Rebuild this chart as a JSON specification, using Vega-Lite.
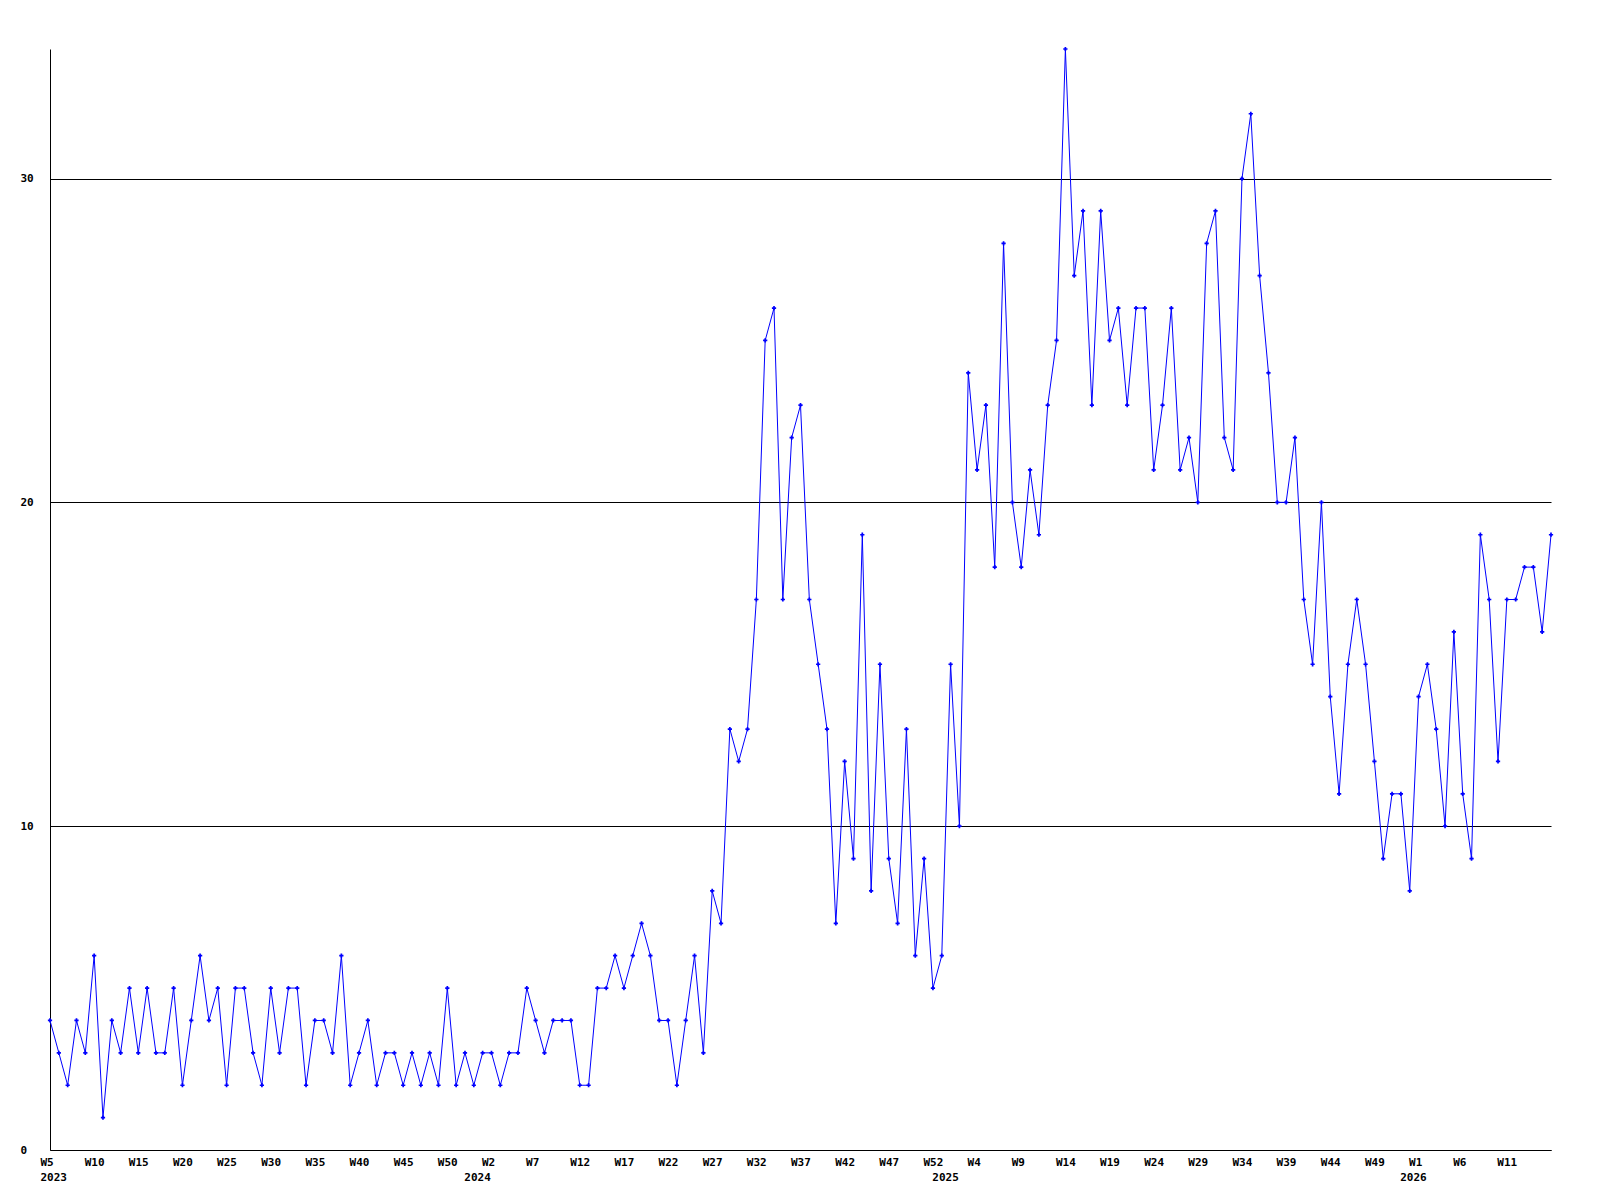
{
  "$schema": "https://vega.github.io/schema/vega-lite/v6.json",
  "autosize": "none",
  "width": 1501,
  "height": 1101,
  "padding": {"left": 50, "top": 49, "right": 49, "bottom": 50},
  "background": "white",
  "config": {"view": {"stroke": null}},
  "data": {"values": [
    {"i":0,"v":4},{"i":1,"v":3},{"i":2,"v":2},{"i":3,"v":4},{"i":4,"v":3},{"i":5,"v":6},{"i":6,"v":1},{"i":7,"v":4},{"i":8,"v":3},{"i":9,"v":5},
    {"i":10,"v":3},{"i":11,"v":5},{"i":12,"v":3},{"i":13,"v":3},{"i":14,"v":5},{"i":15,"v":2},{"i":16,"v":4},{"i":17,"v":6},{"i":18,"v":4},{"i":19,"v":5},
    {"i":20,"v":2},{"i":21,"v":5},{"i":22,"v":5},{"i":23,"v":3},{"i":24,"v":2},{"i":25,"v":5},{"i":26,"v":3},{"i":27,"v":5},{"i":28,"v":5},{"i":29,"v":2},
    {"i":30,"v":4},{"i":31,"v":4},{"i":32,"v":3},{"i":33,"v":6},{"i":34,"v":2},{"i":35,"v":3},{"i":36,"v":4},{"i":37,"v":2},{"i":38,"v":3},{"i":39,"v":3},
    {"i":40,"v":2},{"i":41,"v":3},{"i":42,"v":2},{"i":43,"v":3},{"i":44,"v":2},{"i":45,"v":5},{"i":46,"v":2},{"i":47,"v":3},{"i":48,"v":2},{"i":49,"v":3},
    {"i":50,"v":3},{"i":51,"v":2},{"i":52,"v":3},{"i":53,"v":3},{"i":54,"v":5},{"i":55,"v":4},{"i":56,"v":3},{"i":57,"v":4},{"i":58,"v":4},{"i":59,"v":4},
    {"i":60,"v":2},{"i":61,"v":2},{"i":62,"v":5},{"i":63,"v":5},{"i":64,"v":6},{"i":65,"v":5},{"i":66,"v":6},{"i":67,"v":7},{"i":68,"v":6},{"i":69,"v":4},
    {"i":70,"v":4},{"i":71,"v":2},{"i":72,"v":4},{"i":73,"v":6},{"i":74,"v":3},{"i":75,"v":8},{"i":76,"v":7},{"i":77,"v":13},{"i":78,"v":12},{"i":79,"v":13},
    {"i":80,"v":17},{"i":81,"v":25},{"i":82,"v":26},{"i":83,"v":17},{"i":84,"v":22},{"i":85,"v":23},{"i":86,"v":17},{"i":87,"v":15},{"i":88,"v":13},{"i":89,"v":7},
    {"i":90,"v":12},{"i":91,"v":9},{"i":92,"v":19},{"i":93,"v":8},{"i":94,"v":15},{"i":95,"v":9},{"i":96,"v":7},{"i":97,"v":13},{"i":98,"v":6},{"i":99,"v":9},
    {"i":100,"v":5},{"i":101,"v":6},{"i":102,"v":15},{"i":103,"v":10},{"i":104,"v":24},{"i":105,"v":21},{"i":106,"v":23},{"i":107,"v":18},{"i":108,"v":28},{"i":109,"v":20},
    {"i":110,"v":18},{"i":111,"v":21},{"i":112,"v":19},{"i":113,"v":23},{"i":114,"v":25},{"i":115,"v":34},{"i":116,"v":27},{"i":117,"v":29},{"i":118,"v":23},{"i":119,"v":29},
    {"i":120,"v":25},{"i":121,"v":26},{"i":122,"v":23},{"i":123,"v":26},{"i":124,"v":26},{"i":125,"v":21},{"i":126,"v":23},{"i":127,"v":26},{"i":128,"v":21},{"i":129,"v":22},
    {"i":130,"v":20},{"i":131,"v":28},{"i":132,"v":29},{"i":133,"v":22},{"i":134,"v":21},{"i":135,"v":30},{"i":136,"v":32},{"i":137,"v":27},{"i":138,"v":24},{"i":139,"v":20},
    {"i":140,"v":20},{"i":141,"v":22},{"i":142,"v":17},{"i":143,"v":15},{"i":144,"v":20},{"i":145,"v":14},{"i":146,"v":11},{"i":147,"v":15},{"i":148,"v":17},{"i":149,"v":15},
    {"i":150,"v":12},{"i":151,"v":9},{"i":152,"v":11},{"i":153,"v":11},{"i":154,"v":8},{"i":155,"v":14},{"i":156,"v":15},{"i":157,"v":13},{"i":158,"v":10},{"i":159,"v":16},
    {"i":160,"v":11},{"i":161,"v":9},{"i":162,"v":19},{"i":163,"v":17},{"i":164,"v":12},{"i":165,"v":17},{"i":166,"v":17},{"i":167,"v":18},{"i":168,"v":18},{"i":169,"v":16},
    {"i":170,"v":19}
  ]},
  "encoding": {
    "x": {
      "field": "i", "type": "quantitative",
      "scale": {"domain": [0, 170], "nice": false, "zero": false},
      "axis": {
        "title": null,
        "values": [0,5,10,15,20,25,30,35,40,45,48,50,55,60,65,70,75,80,85,90,95,100,101,105,110,115,120,125,130,135,140,145,150,154,155,160,165],
        "labelExpr": "datum.value == 48 ? ['', '2024'] : datum.value == 101 ? ['', '2025'] : datum.value == 154 ? ['', '2026'] : datum.value == 0 ? ['W5', '2023'] : 'W' + (datum.value < 48 ? datum.value + 5 : datum.value < 101 ? datum.value - 48 : datum.value < 154 ? datum.value - 101 : datum.value - 154)",
        "grid": false,
        "ticks": false,
        "domainColor": "#000000",
        "domainWidth": 1,
        "labelFont": "DejaVu Sans Mono",
        "labelFontWeight": "bold",
        "labelFontSize": 11,
        "labelColor": "#000000",
        "labelAlign": "left",
        "labelOffset": -10,
        "labelBaseline": "top",
        "labelPadding": 6,
        "labelLineHeight": 15,
        "labelOverlap": false,
        "labelBound": false,
        "labelFlush": false
      }
    },
    "y": {
      "field": "v", "type": "quantitative",
      "scale": {"domain": [0, 34], "nice": false},
      "axis": {
        "title": null,
        "values": [0, 10, 20, 30],
        "grid": true,
        "gridColor": "#000000",
        "gridOpacity": 1,
        "gridWidth": 1,
        "ticks": false,
        "domainColor": "#000000",
        "domainWidth": 1,
        "labelFont": "DejaVu Sans Mono",
        "labelFontWeight": "bold",
        "labelFontSize": 11,
        "labelColor": "#000000",
        "labelAlign": "left",
        "labelPadding": 30
      }
    }
  },
  "layer": [
    {"mark": {"type": "line", "color": "#0000ff", "strokeWidth": 1}},
    {"mark": {"type": "point", "shape": "cross", "filled": true, "color": "#0000ff", "size": 18, "opacity": 1}}
  ]
}
